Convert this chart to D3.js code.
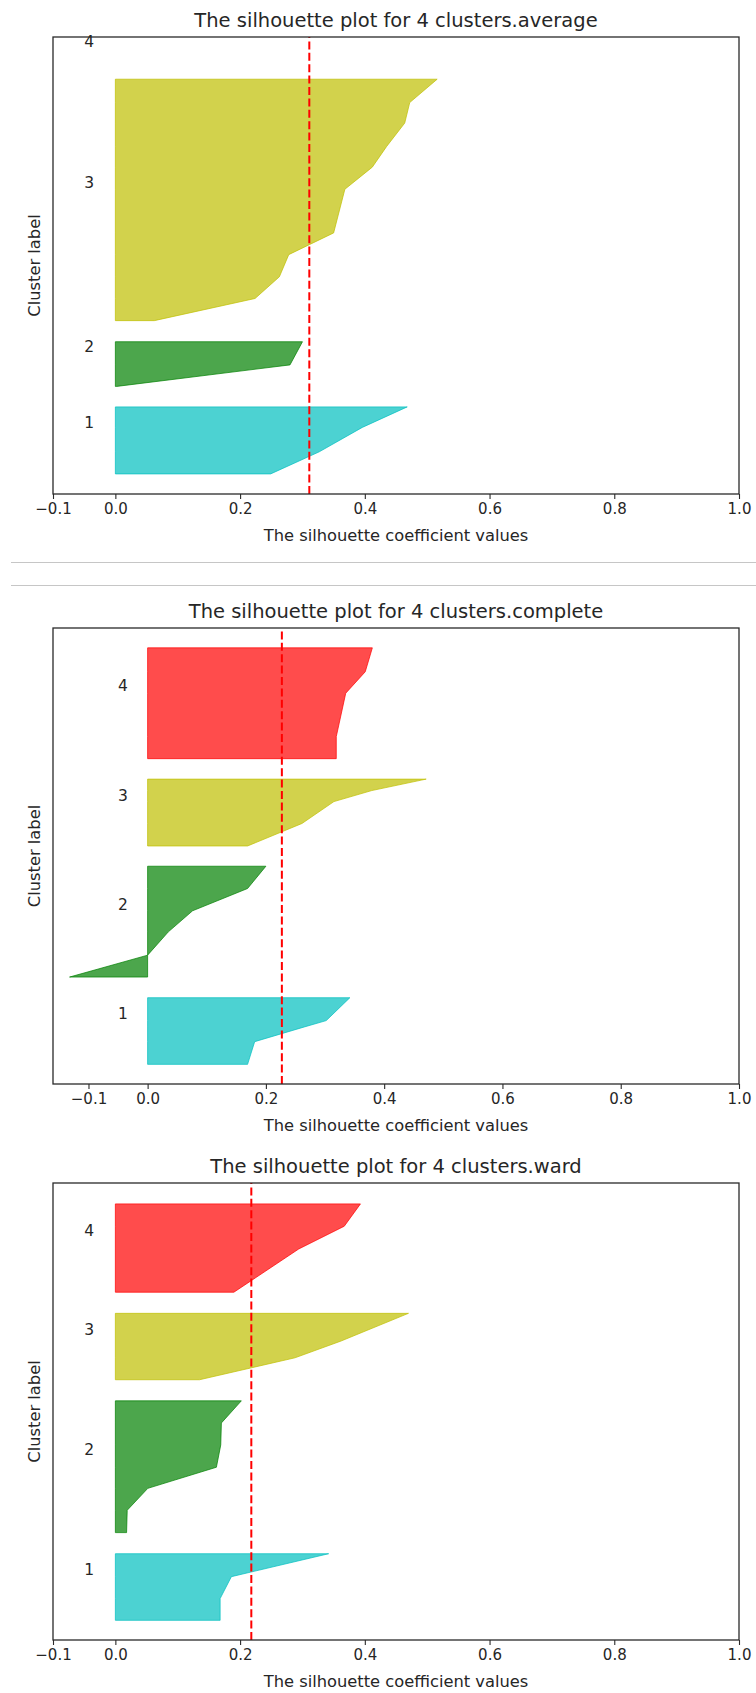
<!DOCTYPE html>
<html>
<head>
<meta charset="utf-8">
<script src="https://cdn.jsdelivr.net/npm/d3@7"></script>
<style>
  html, body { margin: 0; padding: 0; background: #fff; }
  svg { display: block; }
  text { font-family: "DejaVu Sans", sans-serif; fill: #262626; }
</style>
</head>
<body>
<svg id="chart" width="756" height="1693"></svg>
<script>
// ---------------- DATA ----------------
const titles = [
  "The silhouette plot for 4 clusters.average",
  "The silhouette plot for 4 clusters.complete",
  "The silhouette plot for 4 clusters.ward"
];
const clusterLabels = ["1", "2", "3", "4"];
const clusterColors = ["#00bfbf", "#008000", "#bfbf00", "#ff0000"];
const xTickValues = [-0.1, 0.0, 0.2, 0.4, 0.6, 0.8, 1.0];
const xDomains = [[-0.1, 1.0], [-0.16, 1.0], [-0.1, 1.0]];
const yDomain = [0, 223];
const meanScores = [0.311, 0.227, 0.218];
const xLabel = "The silhouette coefficient values";
const yLabel = "Cluster label";

// silhouette profiles: [sample position, silhouette value]
const averageC1 = [[9.8, 0.249], [20.6, 0.327], [32.5, 0.396], [42.5, 0.468]];
const averageC2 = [[52.5, 0.002], [63, 0.28], [74.3, 0.30]];
const averageC3 = [[84.6, 0.0625], [95.4, 0.224], [106, 0.263], [116.8, 0.278], [127.4, 0.350],
                   [148.7, 0.368], [159.5, 0.412], [169.6, 0.435], [181, 0.464], [191, 0.472], [202.4, 0.516]];
const averageC4 = [[212.4, 0.0], [212.4, 0.0]];

const completeC1 = [[9.6, 0.169], [20.7, 0.181], [27.9, 0.265], [31, 0.302], [42.2, 0.342]];
const completeC2 = [[52.3, -0.132], [63, 0.0], [74.4, 0.035], [84.7, 0.076], [95.6, 0.169], [106.5, 0.200]];
const completeC3 = [[116.4, 0.169], [127.4, 0.261], [138.1, 0.315], [143.5, 0.379], [149.1, 0.471]];
const completeC4 = [[159.1, 0.319], [169.9, 0.319], [191.1, 0.335], [201.6, 0.368], [213.3, 0.380]];

const wardC1 = [[9.6, 0.168], [20.2, 0.168], [30.9, 0.186], [42.1, 0.342]];
const wardC2 = [[52.4, 0.018], [63.3, 0.019], [74, 0.052], [84.3, 0.162], [95.2, 0.169], [105.9, 0.170], [116.7, 0.202]];
const wardC3 = [[127, 0.135], [137.7, 0.288], [145.9, 0.362], [159.4, 0.470]];
const wardC4 = [[169.7, 0.190], [190.8, 0.294], [201.9, 0.367], [212.8, 0.393]];

const panelClusters = [
  [averageC1, averageC2, averageC3, averageC4],
  [completeC1, completeC2, completeC3, completeC4],
  [wardC1, wardC2, wardC3, wardC4]
];

// ---------------- LAYOUT ----------------
const svg = d3.select("#chart");
const frameLeft = 53, frameRight = 739;
const frameTops = [37, 628, 1183];
const frameBottoms = [494, 1084, 1640];
const frameColor = "#2a2a2a";

// separator lines between first and second figure
svg.append("line").attr("x1", 11).attr("x2", 756).attr("y1", 562.5).attr("y2", 562.5)
  .attr("stroke", "#c6c6c6").attr("stroke-width", 1);
svg.append("line").attr("x1", 11).attr("x2", 756).attr("y1", 585.5).attr("y2", 585.5)
  .attr("stroke", "#c6c6c6").attr("stroke-width", 1);

titles.forEach((title, p) => {
  const top = frameTops[p], bottom = frameBottoms[p];
  const x = d3.scaleLinear().domain(xDomains[p]).range([frameLeft, frameRight]);
  const y = d3.scaleLinear().domain(yDomain).range([bottom, top]);
  const g = svg.append("g");

  // clusters
  panelClusters[p].forEach((pts, i) => {
    const area = d3.area()
      .x0(() => x(0))
      .x1(d => x(d[1]))
      .y(d => y(d[0]));
    const distinct = pts[0][0] !== pts[pts.length - 1][0];
    if (distinct) {
      g.append("path")
        .datum(pts)
        .attr("d", area)
        .attr("fill", clusterColors[i])
        .attr("fill-opacity", 0.7)
        .attr("stroke", clusterColors[i])
        .attr("stroke-opacity", 0.7)
        .attr("stroke-width", 1)
        .attr("stroke-linejoin", "round");
    }
    const mid = (pts[0][0] + pts[pts.length - 1][0]) / 2;
    g.append("text")
      .attr("x", x(-0.05))
      .attr("y", y(mid))
      .attr("dy", "-12")
      .attr("font-size", "15.5px")
      .text(clusterLabels[i]);
  });

  // mean line
  g.append("line")
    .attr("x1", x(meanScores[p])).attr("x2", x(meanScores[p]))
    .attr("y1", bottom).attr("y2", top)
    .attr("stroke", "#ff0000")
    .attr("stroke-width", 2)
    .attr("stroke-dasharray", "8,3.4");

  // frame
  g.append("rect")
    .attr("x", frameLeft).attr("y", top)
    .attr("width", frameRight - frameLeft).attr("height", bottom - top)
    .attr("fill", "none").attr("stroke", frameColor).attr("stroke-width", 1.3);

  // x axis
  const axis = d3.axisBottom(x)
    .tickValues(xTickValues)
    .tickFormat(d3.format(".1f"))
    .tickSize(5)
    .tickPadding(4);
  const ax = g.append("g").attr("transform", `translate(0,${bottom})`).call(axis);
  ax.select(".domain").remove();
  ax.selectAll(".tick line").attr("stroke", frameColor).attr("stroke-width", 1.1);
  ax.selectAll(".tick text")
    .attr("font-family", "DejaVu Sans, sans-serif")
    .attr("font-size", "15px")
    .attr("fill", "#262626");

  // title
  g.append("text")
    .attr("x", (frameLeft + frameRight) / 2)
    .attr("y", top - 17)
    .attr("dy", "0.36em")
    .attr("text-anchor", "middle")
    .attr("font-size", "19.5px")
    .text(title);

  // x label
  g.append("text")
    .attr("x", (frameLeft + frameRight) / 2)
    .attr("y", bottom + 41)
    .attr("dy", "0.36em")
    .attr("text-anchor", "middle")
    .attr("font-size", "16.3px")
    .text(xLabel);

  // y label
  g.append("text")
    .attr("transform", `translate(34,${(top + bottom) / 2}) rotate(-90)`)
    .attr("dy", "0.36em")
    .attr("text-anchor", "middle")
    .attr("font-size", "16.3px")
    .text(yLabel);
});
</script>
</body>
</html>
